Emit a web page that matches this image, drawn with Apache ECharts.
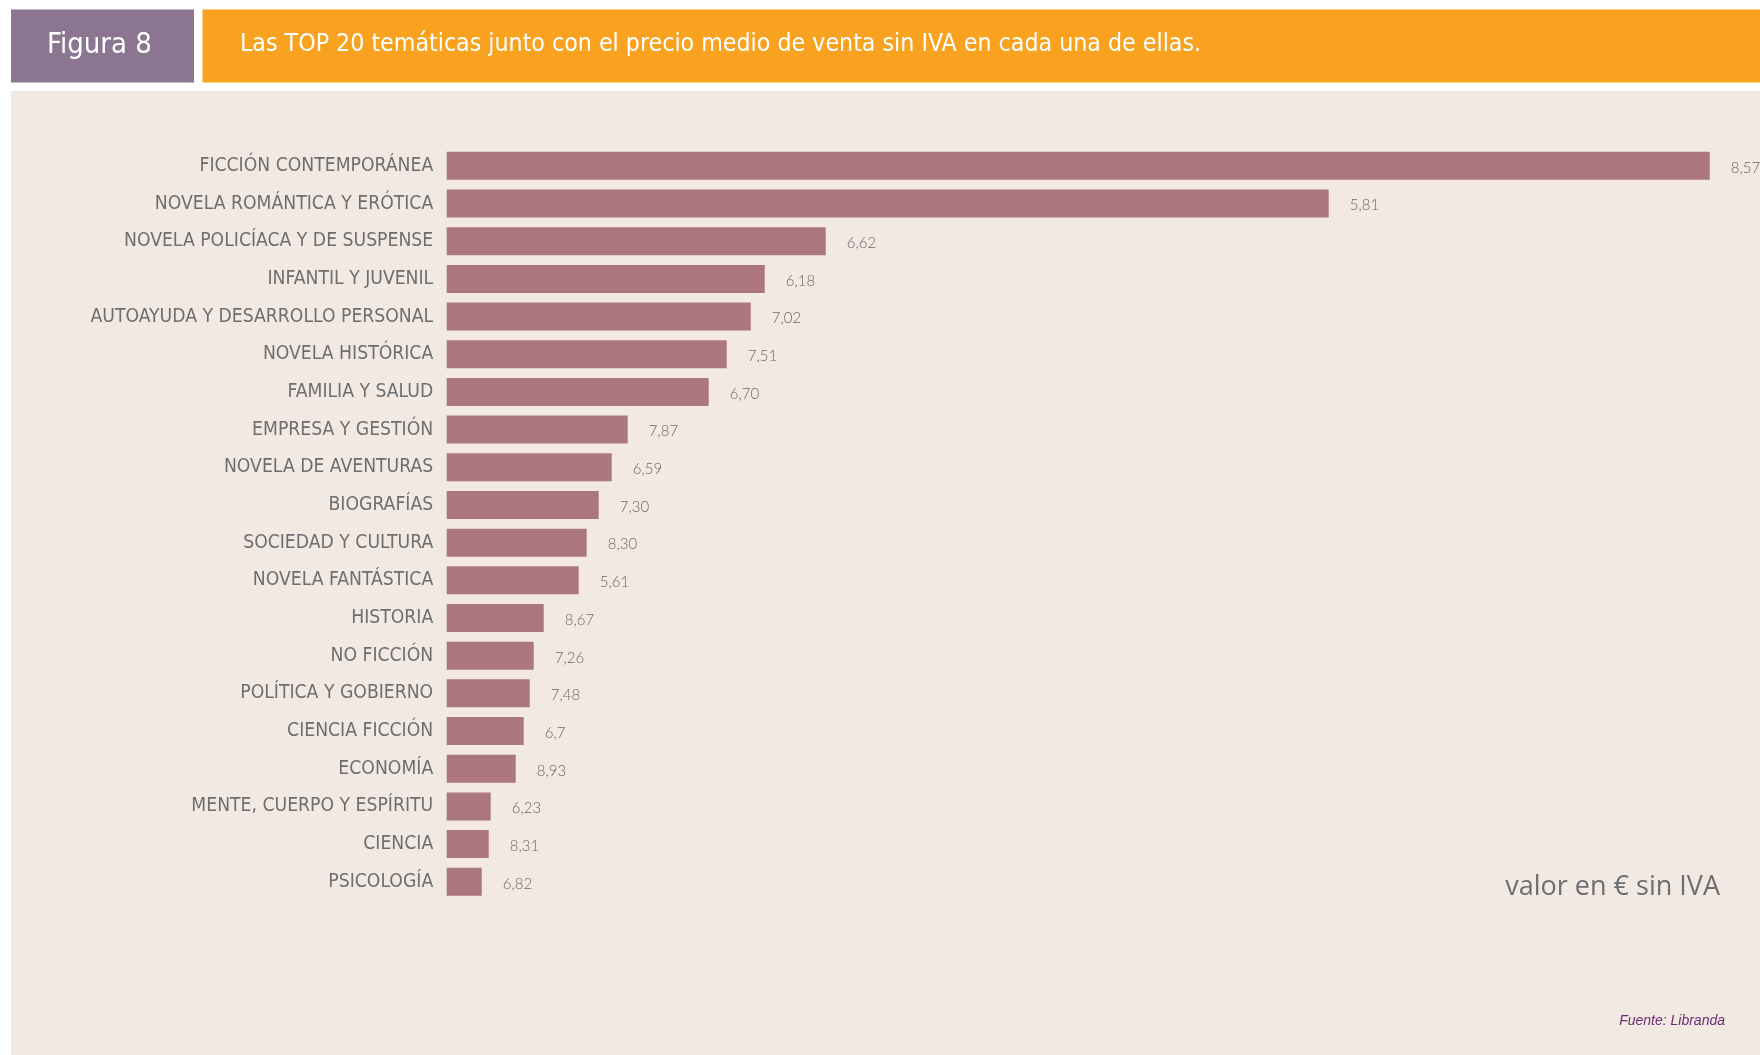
<!DOCTYPE html>
<html>
<head>
<meta charset="utf-8">
<script src="https://cdn.jsdelivr.net/npm/echarts@6/dist/echarts.min.js"></script>
<style>
html,body{margin:0;padding:0;background:#ffffff;}
#main{width:1760px;height:1055px;}
</style>
</head>
<body>
<div id="main"></div>
<script>
// Data
const categories = [
  "FICCIÓN CONTEMPORÁNEA",
  "NOVELA ROMÁNTICA Y ERÓTICA",
  "NOVELA POLICÍACA Y DE SUSPENSE",
  "INFANTIL Y JUVENIL",
  "AUTOAYUDA Y DESARROLLO PERSONAL",
  "NOVELA HISTÓRICA",
  "FAMILIA Y SALUD",
  "EMPRESA Y GESTIÓN",
  "NOVELA DE AVENTURAS",
  "BIOGRAFÍAS",
  "SOCIEDAD Y CULTURA",
  "NOVELA FANTÁSTICA",
  "HISTORIA",
  "NO FICCIÓN",
  "POLÍTICA Y GOBIERNO",
  "CIENCIA FICCIÓN",
  "ECONOMÍA",
  "MENTE, CUERPO Y ESPÍRITU",
  "CIENCIA",
  "PSICOLOGÍA"
];
// Relative bar sizes (arbitrary units)
const barValues = [12.63, 8.82, 3.79, 3.18, 3.04, 2.80, 2.62, 1.81, 1.65, 1.52, 1.40, 1.32, 0.97, 0.87, 0.83, 0.77, 0.69, 0.44, 0.42, 0.35];
// Average price without VAT (label text)
const priceLabels = ["8,57", "5,81", "6,62", "6,18", "7,02", "7,51", "6,70", "7,87", "6,59", "7,30", "8,30", "5,61", "8,67", "7,26", "7,48", "6,7", "8,93", "6,23", "8,31", "6,82"];
const figureLabel = "Figura 8";
const titleText = "Las TOP 20 temáticas junto con el precio medio de venta sin IVA en cada una de ellas.";
const unitText = "valor en € sin IVA";
const sourceText = "Fuente: Libranda";

const narrow = '"Liberation Sans Narrow", "DejaVu Sans Condensed", "Liberation Sans", sans-serif';

const chart = echarts.init(document.getElementById('main'), null, {renderer: 'canvas'});
chart.setOption({
  backgroundColor: '#ffffff',
  animation: false,
  graphic: [
    {type: 'rect', z: -10, shape: {x: 11, y: 91, width: 1749, height: 964}, style: {fill: '#f2e9e3'}},
    {type: 'rect', z: -10, shape: {x: 11, y: 9.5, width: 183, height: 73}, style: {fill: '#8b7590'}},
    {type: 'rect', z: -10, shape: {x: 202.5, y: 9.5, width: 1557.5, height: 73}, style: {fill: '#f8a21f'}},
    {type: 'text', left: 47, top: 31, style: {text: figureLabel, font: '29px ' + narrow, fill: '#ffffff'}},
    {type: 'text', left: 240, top: 32.5, style: {text: titleText, font: '24.7px ' + narrow, fill: '#ffffff'}},
    {type: 'text', right: 40, top: 874, style: {text: unitText, font: '27px "Open Sans", sans-serif', fill: '#6d6e70'}},
    {type: 'text', right: 35, top: 1014, style: {text: sourceText, font: 'italic 14px "Liberation Sans", sans-serif', fill: '#6b2d6e'}}
  ],
  grid: {left: 446.7, right: 13.3, top: 147, bottom: 154.4, containLabel: false},
  xAxis: {type: 'value', min: 0, max: 13, show: false},
  yAxis: {
    type: 'category',
    data: categories,
    inverse: true,
    axisLine: {show: false},
    axisTick: {show: false},
    axisLabel: {fontFamily: narrow, fontSize: 19.2, color: '#6d6e70', margin: 13.5, padding: [3, 0, 0, 0]}
  },
  series: [{
    type: 'bar',
    data: barValues,
    barWidth: 28,
    itemStyle: {color: '#ab767d'},
    label: {
      show: true,
      position: 'right',
      distance: 21,
      offset: [0, 2],
      formatter: p => priceLabels[p.dataIndex],
      fontFamily: 'Lato, "Open Sans", sans-serif',
      fontWeight: 300,
      fontSize: 15,
      color: '#6a6a6a'
    }
  }]
});
</script>
</body>
</html>
